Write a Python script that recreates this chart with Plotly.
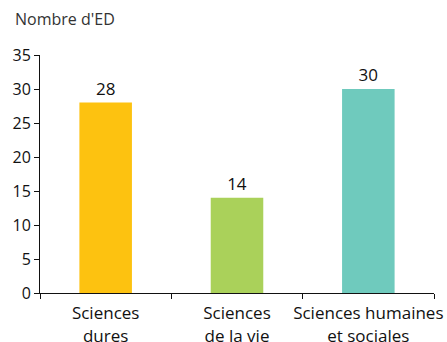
import plotly.graph_objects as go

categories = ["Sciences<br>dures", "Sciences<br>de la vie", "Sciences humaines<br>et sociales"]
values = [28, 14, 30]
colors = ["#FDC210", "#AAD15A", "#6FCABD"]
y_ticks = [0, 5, 10, 15, 20, 25, 30, 35]

font_family = "Open Sans, Lato, sans-serif"

fig = go.Figure(
    go.Bar(
        x=categories,
        y=values,
        marker=dict(color=colors, line=dict(width=0)),
        text=[str(v) for v in values],
        textposition="outside",
        textfont=dict(size=17, color="#111111", family=font_family),
        cliponaxis=False,
        width=0.4,
    )
)

fig.update_layout(
    width=447,
    height=342,
    margin=dict(l=40, r=13, t=55, b=49, autoexpand=False),
    paper_bgcolor="white",
    plot_bgcolor="white",
    showlegend=False,
    font=dict(family=font_family, size=16, color="#111111"),
    annotations=[
        dict(
            text="Nombre d'ED",
            xref="paper", yref="paper",
            x=-0.068, y=1.095,
            xanchor="left", yanchor="bottom",
            showarrow=False,
            font=dict(size=16, color="#333333", family=font_family),
        )
    ],
)

fig.update_yaxes(
    range=[0, 35],
    tickvals=y_ticks,
    showgrid=False,
    zeroline=False,
    showline=True,
    linecolor="#111111",
    linewidth=1,
    ticks="outside",
    ticklen=5,
    tickcolor="#111111",
    tickfont=dict(size=16),
    automargin=False,
)

fig.update_xaxes(
    showgrid=False,
    showline=True,
    linecolor="#111111",
    linewidth=1,
    ticks="outside",
    ticklen=5,
    tickcolor="#111111",
    tickson="boundaries",
    tickangle=0,
    ticklabelstandoff=5,
    tickfont=dict(size=17),
    automargin=False,
)

fig.write_html("out.html")
